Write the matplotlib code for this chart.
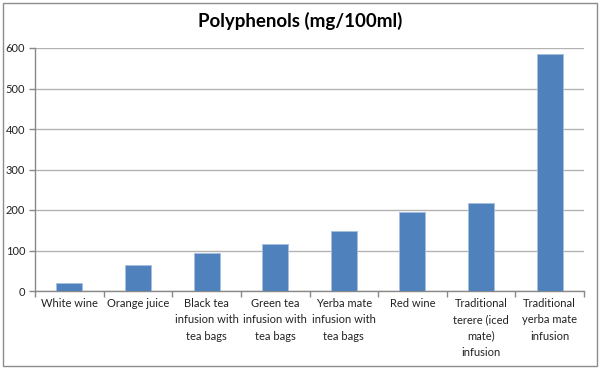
import matplotlib
matplotlib.use("Agg")
import matplotlib.pyplot as plt
from matplotlib.patches import Rectangle
import numpy as np

categories = ["White wine", "Orange juice", "Black tea\ninfusion with\ntea bags",
              "Green tea\ninfusion with\ntea bags", "Yerba mate\ninfusion with\ntea bags",
              "Red wine", "Traditional\nterere (iced\nmate)\ninfusion",
              "Traditional\nyerba mate\ninfusion"]
values = [19, 63, 93, 115, 147, 195, 217, 586]
yticks = [0, 100, 200, 300, 400, 500, 600]
title = "Polyphenols (mg/100ml)"

plt.rcParams['font.family'] = ['Lato', 'DejaVu Sans']

fig = plt.figure(figsize=(6.0, 3.69), dpi=100)
ax = fig.add_axes([35/600, 1-291/369, 549/600, 243/369])

x = np.arange(len(categories))
ax.bar(x, values, width=0.38, color="#4F81BD", edgecolor="#A7C0DE", linewidth=0.6, zorder=3)

ax.set_xlim(-0.5, len(categories) - 0.5)
ax.set_ylim(0, 600)
ax.set_yticks(yticks)
ax.set_yticklabels([str(t) for t in yticks], fontsize=8, color="#222222")
ax.yaxis.grid(True, color="#B3B3B3", linewidth=1.0, zorder=0)
ax.set_axisbelow(True)

ax.set_xticks(x)
ax.set_xticklabels(categories, fontsize=8, color="#222222", linespacing=1.6)
ax.tick_params(axis='x', which='major', length=0, pad=5)
ax.set_xticks(np.arange(-0.5, len(categories), 1.0), minor=True)
ax.tick_params(axis='x', which='minor', length=4, color="#888888", width=1)
ax.tick_params(axis='y', length=4, color="#888888", width=1, pad=3)

for s in ['top', 'right']:
    ax.spines[s].set_visible(False)
for s in ['left', 'bottom']:
    ax.spines[s].set_color("#888888")
    ax.spines[s].set_linewidth(1.0)

fig.text(0.5, 1-21/369, title, ha='center', va='center', fontsize=13.5, fontweight='bold', color="#000000")

fig.patches.append(Rectangle((3/600, 3/369), 594/600, 363/369, transform=fig.transFigure,
                             fill=False, edgecolor="#8C8C8C", linewidth=1.0))

fig.savefig("out.png", dpi=100, facecolor="white")
